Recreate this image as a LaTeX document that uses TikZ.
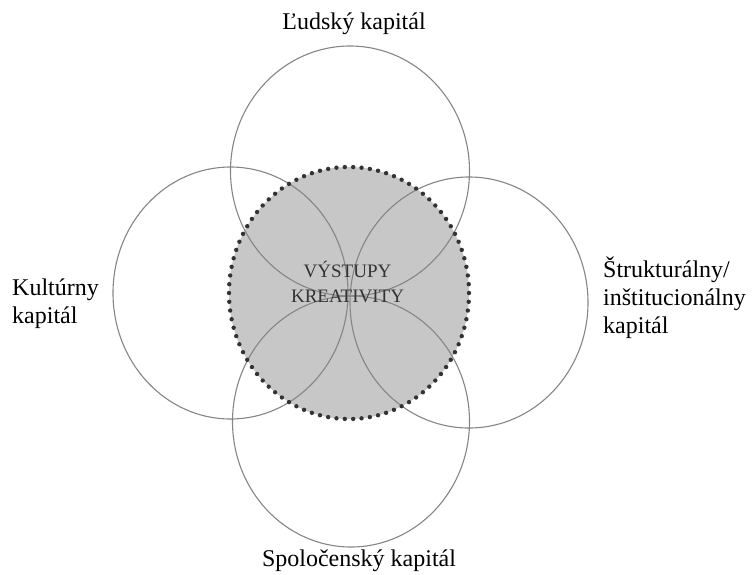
\documentclass[tikz,border=0pt]{standalone}
\usepackage{fontspec}
\setmainfont{Liberation Serif}
\usetikzlibrary{calc}

\definecolor{ringgray}{gray}{0.52}
\definecolor{coregray}{gray}{0.78}
\definecolor{dotgray}{gray}{0.2}
\definecolor{coretext}{gray}{0.2}

\begin{document}
\begin{tikzpicture}[x=1pt,y=-1pt,
    ring/.style={draw=ringgray, line width=1.1pt},
    capital/.style={font=\fontsize{24}{28}\selectfont, inner sep=0pt, align=left}]

    \useasboundingbox (0,0) rectangle (755,574);

    \coordinate (c) at (349,293);
    \fill[coregray] (c) ellipse [x radius=120, y radius=126];

    \draw[ring] (350,171) ellipse [x radius=119.5, y radius=125];
    \draw[ring] (351,421.5) ellipse [x radius=118.5, y radius=125.5];
    \draw[ring] (230.5,293) ellipse [x radius=117.5, y radius=126];
    \draw[ring] (469,302.5) ellipse [x radius=119, y radius=125.5];

    \foreach \a in {0,4,...,356} \fill[dotgray] ($(c)+(\a:120 and 126)$) circle[radius=2.2pt];

    \node[font=\fontsize{19}{25}\selectfont, text=coretext, align=center, inner sep=0pt, anchor=base] (core) at (347.5,302) {VÝSTUPY\\KREATIVITY};

    \node[capital, anchor=base] (ludsky) at (354,29) {Ľudský kapitál};
    \node[capital, anchor=base west] (kulturny) at (12,323) {Kultúrny\\kapitál};
    \node[capital, anchor=base west] (strukturalny) at (603,333) {Štrukturálny/\\inštitucionálny\\kapitál};
    \node[capital, anchor=base] (spolocensky) at (359,566) {Spoločenský kapitál};

\end{tikzpicture}
\end{document}
